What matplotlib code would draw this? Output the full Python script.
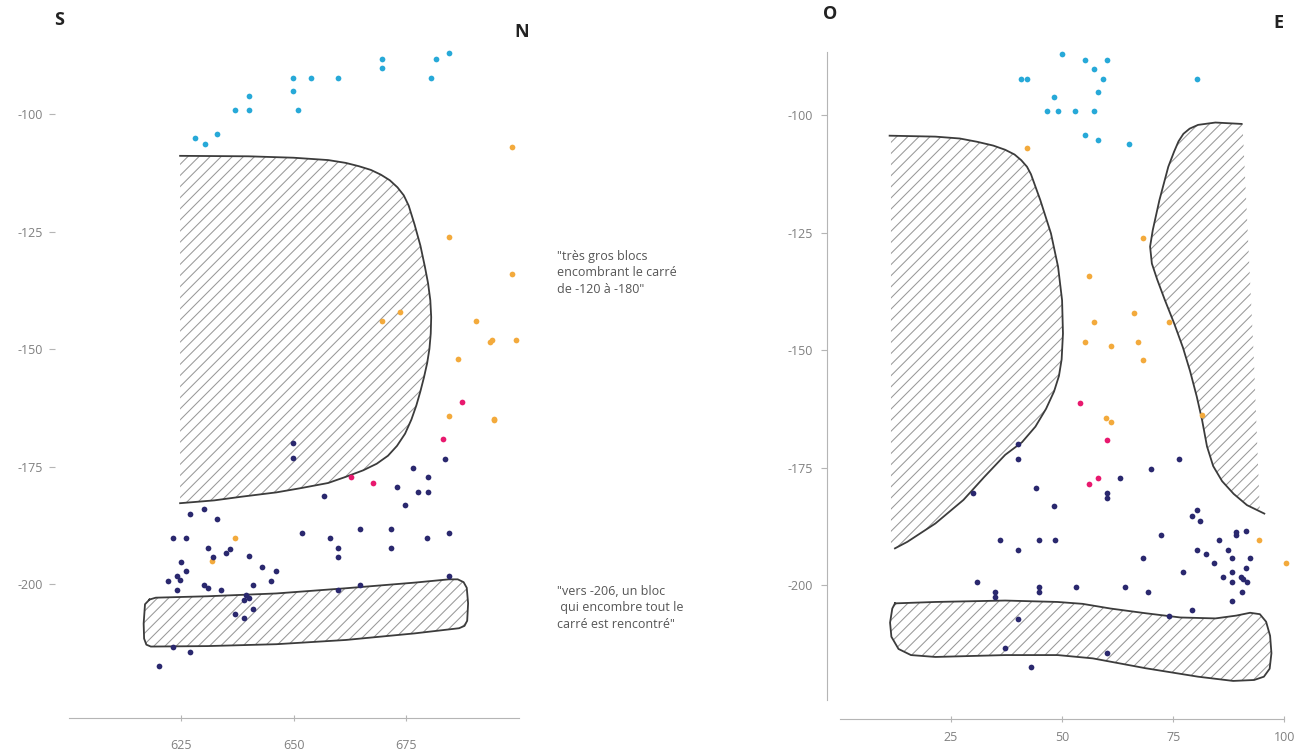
import numpy as np
import matplotlib.pyplot as plt
from matplotlib.patches import Polygon

plt.rcParams['font.family'] = ['Open Sans', 'DejaVu Sans']
plt.rcParams['axes.unicode_minus'] = False
plt.rcParams['hatch.linewidth'] = 0.75
plt.rcParams['hatch.color'] = '#999999'

# ---------------- left panel (S - N) ----------------
sn_cyan_x = [628.1, 630.3, 633.1, 637.0, 640.1, 640.1, 649.9, 653.9, 659.8, 649.9, 651.0, 669.6, 669.6, 681.7, 684.5, 680.6]
sn_cyan_y = [-105.2, -106.4, -104.3, -99.1, -99.1, -96.1, -92.3, -92.3, -92.3, -95.0, -99.1, -88.2, -90.3, -88.2, -87.1, -92.3]

sn_orange_x = [698.6, 684.5, 698.5, 669.6, 673.6, 690.6, 693.6, 694.0, 699.5, 686.6, 684.5, 694.6, 694.6, 637.1, 631.9]
sn_orange_y = [-107.1, -126.1, -134.1, -144.0, -142.2, -144.0, -148.4, -148.1, -148.1, -152.2, -164.2, -164.8, -165.1, -190.3, -195.0]

sn_pink_x = [687.5, 683.3, 662.7, 667.7]
sn_pink_y = [-161.2, -169.1, -177.3, -178.4]

sn_navy_x = [649.9, 649.9, 683.7, 676.6, 679.9, 673.0, 677.6, 679.9, 656.8, 674.8, 626.9, 630.2, 633.1,
             623.3, 626.2, 651.8, 658.0, 664.8, 671.7, 671.7, 679.7, 684.5, 659.8, 659.8, 631.0, 632.1,
             634.9, 635.9, 640.1, 625.1, 626.2, 622.2, 624.1, 624.8, 624.1, 630.0, 631.0, 633.8, 643.1,
             646.0, 645.0, 641.1, 659.9, 664.8, 684.5, 639.4, 640.1, 639.0, 641.1, 637.1, 639.0, 623.3,
             626.9, 620.0]
sn_navy_y = [-170.1, -173.1, -173.3, -175.3, -177.3, -179.3, -180.4, -180.4, -181.3, -183.2, -185.2, -184.1, -186.2,
             -190.3, -190.3, -189.2, -190.3, -188.3, -188.3, -192.4, -190.3, -189.2, -192.4, -194.2, -192.4, -194.2,
             -193.3, -192.6, -194.0, -195.3, -197.2, -199.3, -198.3, -199.1, -201.3, -200.2, -200.9, -201.3, -196.3,
             -197.2, -199.3, -200.2, -201.3, -200.2, -198.3, -202.3, -203.0, -203.4, -205.3, -206.4, -207.2, -213.3,
             -214.4, -217.4]

# big block (outline is open on the left side)
sn_block1_x = [624.8, 640.0, 650.0, 657.7, 661.6, 664.5, 667.2, 669.4, 671.4, 673.1, 674.5, 675.6, 676.9, 678.2,
               679.2, 679.9, 680.4, 680.6, 680.5, 680.2, 679.7, 679.0, 678.2, 677.3, 676.2, 674.8, 673.0, 671.0,
               668.5, 665.5, 661.6, 657.7, 651.6, 646.2, 638.6, 632.4, 624.8]
sn_block1_y = [-108.9, -109.0, -109.3, -109.8, -110.4, -111.1, -111.9, -112.9, -114.1, -115.6, -117.3, -119.5, -123.5, -128.0,
               -132.5, -136.0, -139.6, -143.2, -146.7, -150.0, -153.0, -156.0, -159.0, -162.0, -165.0, -168.0, -170.6, -172.7,
               -174.4, -175.8, -177.2, -178.5, -179.6, -180.5, -181.4, -182.2, -182.8]

sn_block2_x = [618.0, 619.4, 630.9, 646.2, 661.6, 676.9, 684.5, 686.5, 687.8, 688.5, 688.8, 688.6, 688.0, 686.8, 676.9,
               661.6, 646.2, 630.9, 618.3, 617.3, 616.8, 616.7, 617.0]
sn_block2_y = [-203.3, -202.9, -202.6, -202.0, -200.9, -199.7, -199.0, -199.0, -199.6, -200.8, -204.1, -207.8, -208.9, -209.4, -210.5,
               -211.9, -212.8, -213.2, -213.3, -212.9, -211.6, -208.4, -204.3]

# ---------------- right panel (O - E) ----------------
oe_cyan_x = [50.0, 55.2, 60.1, 57.1, 59.1, 40.8, 42.0, 80.3, 58.1, 48.1, 46.7, 49.1, 53.0, 57.2, 55.2, 58.1, 65.1]
oe_cyan_y = [-87.1, -88.2, -88.2, -90.2, -92.3, -92.3, -92.3, -92.3, -95.2, -96.1, -99.1, -99.1, -99.1, -99.1, -104.3, -105.3, -106.2]

oe_orange_x = [42.0, 68.2, 56.0, 66.2, 57.1, 74.1, 55.2, 61.1, 67.0, 68.2, 59.9, 60.9, 81.4, 94.4, 100.4]
oe_orange_y = [-107.1, -126.2, -134.2, -142.2, -144.1, -144.1, -148.2, -149.2, -148.2, -152.1, -164.5, -165.3, -163.8, -190.4, -195.3]

oe_pink_x = [54.0, 60.1, 56.0, 58.1]
oe_pink_y = [-161.2, -169.2, -178.4, -177.3]

oe_navy_x = [40.0, 40.0, 76.2, 70.1, 63.0, 44.2, 29.9, 60.1, 60.1, 48.1, 80.3, 79.2, 81.1, 72.3, 36.1, 44.9,
             48.3, 40.0, 85.3, 89.2, 89.2, 91.4, 80.3, 82.3, 87.4, 88.3, 92.2, 84.1, 68.2, 91.4, 77.2, 88.3,
             86.3, 90.2, 88.3, 90.8, 91.6, 30.9, 90.4, 53.2, 64.2, 69.3, 34.9, 34.9, 44.9, 44.9, 88.3, 79.2,
             74.1, 40.0, 37.1, 60.1, 43.0]
oe_navy_y = [-170.0, -173.2, -173.2, -175.3, -177.3, -179.4, -180.4, -180.4, -181.4, -183.2, -184.0, -185.3, -186.3, -189.4, -190.4, -190.4,
             -190.4, -192.6, -190.4, -188.7, -189.4, -188.4, -192.6, -193.5, -192.6, -194.2, -194.2, -195.3, -194.2, -196.3, -197.2, -197.2,
             -198.2, -198.2, -199.3, -198.7, -199.4, -199.3, -201.4, -200.4, -200.4, -201.4, -201.4, -202.5, -200.4, -201.4, -203.3, -205.3,
             -206.5, -207.2, -213.3, -214.5, -217.4]

# west block (outline open on the left side)
oe_block1_x = [11.2, 21.5, 27.0, 30.9, 34.5, 37.2, 39.3, 40.8, 42.1, 43.0, 45.1, 47.5, 49.1, 50.0, 50.2, 49.9,
               49.3, 48.2, 46.4, 44.0, 41.0, 37.2, 32.5, 27.8, 21.5, 15.2, 12.4]
oe_block1_y = [-104.4, -104.6, -105.0, -105.7, -106.5, -107.4, -108.4, -109.6, -111.0, -112.6, -118.1, -125.2, -132.3, -139.4, -146.5, -152.0,
               -155.5, -158.8, -162.5, -166.3, -169.6, -172.3, -177.0, -181.9, -186.9, -190.8, -192.2]
oe_block1_edge_x = [11.5, 11.5]
oe_block1_edge_y = [-192.2, -104.4]

# east block (outline open on the right side)
oe_block2_x = [90.4, 84.5, 80.6, 78.7, 77.3, 76.2, 75.2, 73.9, 71.9, 70.4, 69.8, 70.2, 71.4, 73.1, 75.2, 77.2,
               78.8, 80.3, 81.5, 82.6, 84.0, 86.0, 88.6, 91.6, 95.5]
oe_block2_y = [-101.9, -101.6, -102.1, -102.9, -104.0, -105.6, -107.8, -111.0, -118.1, -124.5, -128.0, -131.6, -135.0, -139.3, -144.3, -149.5,
               -154.5, -159.9, -164.9, -170.5, -174.7, -177.9, -180.6, -183.0, -184.8]
oe_block2_edge_x = [94.5, 93.2, 90.6]
oe_block2_edge_y = [-184.5, -153.0, -102.0]

oe_block3_x = [12.4, 21.5, 37.2, 49.0, 54.6, 60.9, 68.8, 76.6, 84.5, 89.2, 92.3, 94.5, 95.9, 96.8, 97.1, 96.7,
               95.4, 93.2, 88.5, 80.6, 68.8, 56.9, 49.0, 37.2, 21.5, 16.0, 13.2, 11.6, 11.3, 11.8]
oe_block3_y = [-203.9, -203.6, -203.3, -203.6, -204.0, -205.0, -206.0, -206.9, -207.1, -206.5, -205.9, -206.2, -207.8, -210.8, -214.5, -217.8,
               -219.5, -220.2, -220.4, -219.5, -217.7, -215.6, -214.9, -214.9, -215.3, -214.9, -213.6, -211.0, -208.0, -205.0]

sn_xticks = [625, 650, 675]
oe_xticks = [25, 50, 75, 100]
yticks = [-100, -125, -150, -175, -200]

note_top = '"très gros blocs\nencombrant le carré\nde -120 à -180"'
note_bottom = '"vers -206, un bloc\n qui encombre tout le\ncarré est rencontré"'

CYAN = '#27a9d8'
ORANGE = '#f3aa3c'
PINK = '#e8196e'
NAVY = '#2a286e'
LINE = '#3c3c3c'
GREY = '#808080'

W, H = 1309, 753
fig = plt.figure(figsize=(W / 100, H / 100), dpi=100)


def hatched(ax, xs, ys, outline_x, outline_y, closed=False):
    pts = np.column_stack([xs, ys])
    ax.add_patch(Polygon(pts, closed=True, fill=False, hatch='///', edgecolor='#999999', lw=0, zorder=1))
    if closed:
        ax.plot(list(xs) + [xs[0]], list(ys) + [ys[0]], color=LINE, lw=1.3, zorder=2, solid_joinstyle='round')
    else:
        ax.plot(outline_x, outline_y, color=LINE, lw=1.3, zorder=2, solid_joinstyle='round')


def style(ax, xticks, xpad, ypad, show_left):
    ax.set_ylim(-228.5, -85)
    ax.set_yticks(yticks)
    ax.set_xticks(xticks)
    for s in ['top', 'right']:
        ax.spines[s].set_visible(False)
    ax.spines['bottom'].set_color('#b5b5b5')
    ax.spines['left'].set_color('#b5b5b5')
    ax.spines['left'].set_visible(show_left)
    ax.tick_params(axis='x', direction='inout', length=5, color='#b5b5b5', labelcolor=GREY, labelsize=9, pad=xpad)
    ax.tick_params(axis='y', direction='out', length=4, color='#b5b5b5', labelcolor=GREY, labelsize=9, pad=ypad)
    ax.patch.set_alpha(0)


# left panel
ax1 = fig.add_axes([55 / W, 35 / H, 477 / W, 674.5 / H])
ax1.set_xlim(597, 703)
hatched(ax1, sn_block1_x, sn_block1_y, sn_block1_x, sn_block1_y)
hatched(ax1, sn_block2_x, sn_block2_y, None, None, closed=True)
for xs, ys, c in [(sn_cyan_x, sn_cyan_y, CYAN), (sn_orange_x, sn_orange_y, ORANGE),
                  (sn_pink_x, sn_pink_y, PINK), (sn_navy_x, sn_navy_y, NAVY)]:
    ax1.scatter(xs, ys, s=17, color=c, lw=0, zorder=3)
style(ax1, sn_xticks, 12.5, 5, False)
ax1.spines['bottom'].set_bounds(600, 700)

# right panel
ax2 = fig.add_axes([826.5 / W, 34 / H, 475.6 / W, 674.5 / H])
ax2.set_xlim(-3, 104)
hatched(ax2, oe_block1_x + oe_block1_edge_x, oe_block1_y + oe_block1_edge_y, oe_block1_x, oe_block1_y)
hatched(ax2, oe_block2_x + oe_block2_edge_x, oe_block2_y + oe_block2_edge_y, oe_block2_x, oe_block2_y)
hatched(ax2, oe_block3_x, oe_block3_y, None, None, closed=True)
for xs, ys, c in [(oe_cyan_x, oe_cyan_y, CYAN), (oe_orange_x, oe_orange_y, ORANGE),
                  (oe_pink_x, oe_pink_y, PINK), (oe_navy_x, oe_navy_y, NAVY)]:
    ax2.scatter(xs, ys, s=17, color=c, lw=0, zorder=3)
style(ax2, oe_xticks, 6, 6, True)
ax2.spines['bottom'].set_bounds(0, 100)
ax2.spines['left'].set_bounds(-224.5, -86.6)

# orientation letters
for lbl, px, py in [('S', 59, 20), ('N', 522, 32), ('O', 830, 14), ('E', 1278, 23)]:
    fig.text(px / W, 1 - py / H, lbl, ha='center', va='center', fontsize=13, fontweight='bold', color='#222222')

fig.text(557 / W, 1 - 250 / H, note_top, ha='left', va='top', fontsize=9, color='#555555', linespacing=1.35)
fig.text(557 / W, 1 - 585 / H, note_bottom, ha='left', va='top', fontsize=9, color='#555555', linespacing=1.35)

fig.savefig('out.png', dpi=100)
